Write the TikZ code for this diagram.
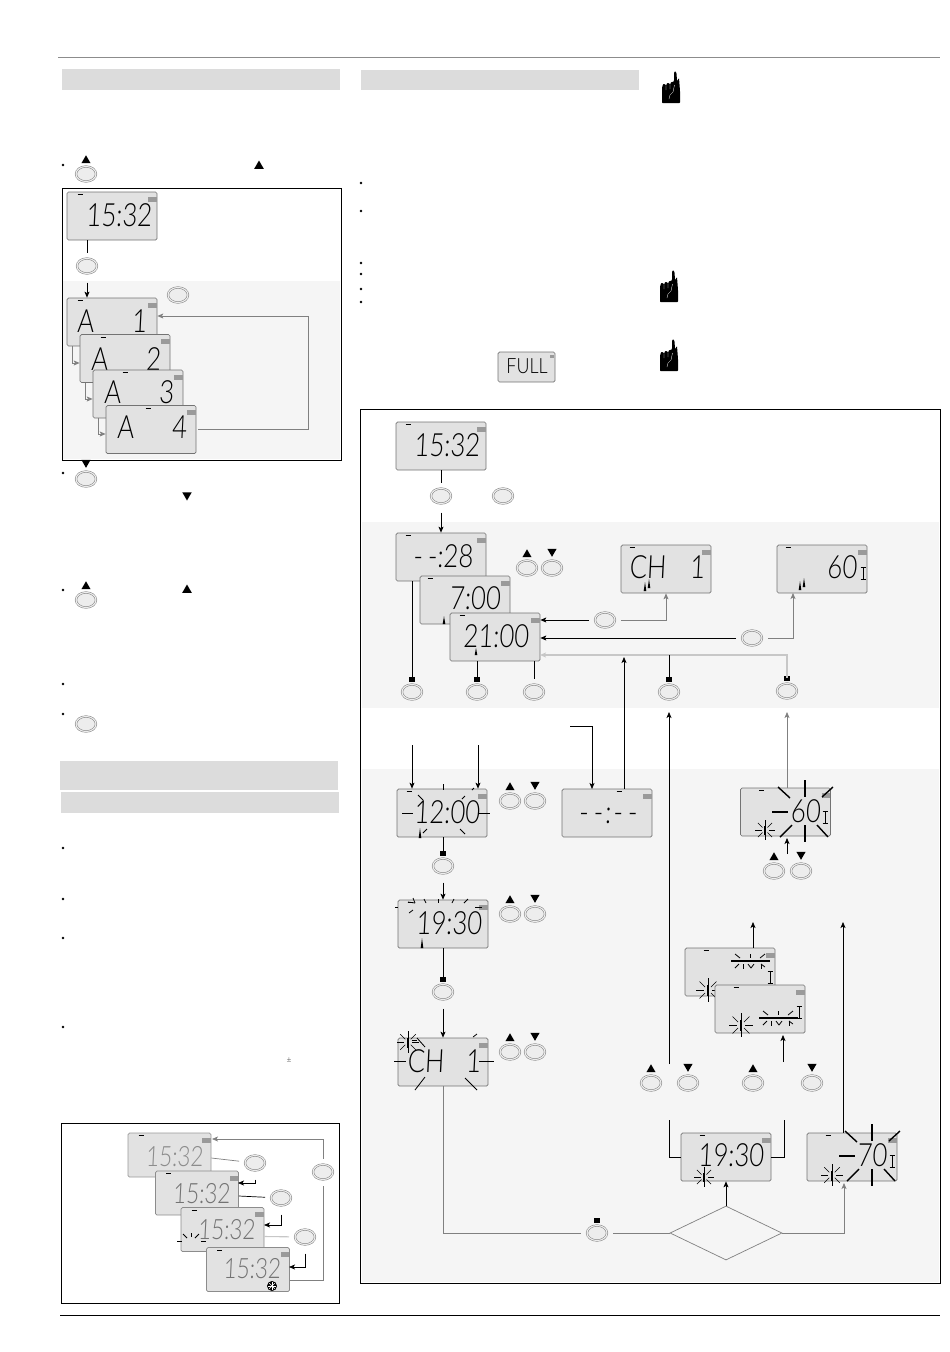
\documentclass[tikz,border=0pt]{standalone}
\usepackage{fontspec}
\usetikzlibrary{calc,shapes.geometric,arrows.meta}
\newfontfamily\lcdfont[UprightFont=* Light,FakeSlant=0.05,FakeStretch=0.8]{Lato}
\newfontfamily\lcdplain[UprightFont=* Light,FakeStretch=0.85]{Lato}
\definecolor{panelfill}{HTML}{F5F5F5}
\definecolor{barfill}{HTML}{DCDCDC}
\definecolor{lcdfill}{HTML}{E2E2E2}
\definecolor{tagfill}{HTML}{9A9A9A}
\definecolor{btnfill}{HTML}{EDEDED}
\tikzset{
lcdbox/.style={draw=black!55,fill=lcdfill,rounded corners=1.5pt,minimum width=90pt,minimum height=48pt,inner sep=0pt},
lcdsmall/.style={lcdbox,minimum width=83pt,minimum height=44pt,draw=black!45},
lcdtext/.style={inner sep=0pt,font=\lcdfont\fontsize{32}{32}\selectfont},
btn/.style={ellipse,fill=btnfill,draw=black!55,double=btnfill,double distance=1.2pt,line width=.45pt,minimum width=20pt,minimum height=15pt,inner sep=0pt,outer sep=6pt,label distance=-8pt},
triup/.style={regular polygon,regular polygon sides=3,fill=black,inner sep=0pt,minimum size=10.5pt},
tridown/.style={triup,shape border rotate=180},
sqmark/.style={rectangle,fill=black,inner sep=0pt,minimum size=5.5pt},
btnup/.style={btn,label={[triup,yshift=-3pt]above:{}}},
btndown/.style={btn,label={[tridown,yshift=-3pt]above:{}}},
btnsq/.style={btn,label={[sqmark,yshift=-4pt]above:{}}},
arr/.style={->,shorten <=3pt},
soft/.style={draw=black!50},
faint/.style={draw=black!22,line width=1.1pt},
decide/.style={diamond,draw=black!50,aspect=2.07,minimum width=112pt,minimum height=54pt,inner sep=0pt}
}
\newcommand{\lcd}[6][]{%
\node[lcdbox,#1] (#2) at (#3) {};
\draw[line width=1pt] ($(#2.north west)+(#4,3)$) -- ++(5,0);
\fill[tagfill] ($(#2.north east)+(-9,5)$) rectangle ++(8.5,5);
\node[lcdtext] (#2txt) at ($(#2)+(#5)$) {\vphantom{0}#6};
}
\newcommand{\burst}[3]{%
\begin{scope}[shift={(#1,#2)}]
\foreach \ang in {0,45,...,315} \draw[line width=.6pt] (\ang:#3*.35) -- (\ang:#3);
\draw[line width=1.3pt] (0,-#3*.4) -- (0,#3*.5);
\end{scope}}
\newcommand{\rays}[1]{\foreach \ax/\ay/\bx/\by in {#1} \draw[line width=.8pt] (\ax,\ay) -- (\bx,\by);}
\newcommand{\flash}[2]{%
\begin{scope}[shift={(#1,#2)},line width=1.4pt]
\draw (0,-31) -- (0,-14);
\draw (0,14) -- (0,31);
\draw (-33,1) -- (-17,1);
\draw (17,-14) -- (28,-24);
\draw (-27,-24) -- (-15,-13);
\draw (12,14) -- (23,26);
\draw (-25,26) -- (-13,14);
\end{scope}}
\newcommand{\dashflash}[2]{%
\begin{scope}[shift={(#1,#2)},line width=.6pt]
\draw[line width=1.3pt] (-19,0) -- (20,0);
\rays{-15/-7/-10/-3,0/-7/0/-3,15/-7/10/-3,-15/7/-11/3,-7/3/-7/8,-2/3/1/7,1/7/4/3,11/3/11/8,15/6/11/3}
\end{scope}}
\newcommand{\ibar}[2]{%
\draw[line width=.9pt] (#1-2.5,#2-6) -- (#1+2.5,#2-6) (#1,#2-6) -- (#1,#2+6) (#1-2.5,#2+6) -- (#1+2.5,#2+6);}
\newcommand{\pointer}[3]{\fill (#1-1.3,#2) -- (#1+1.3,#2) -- (#1,#2-#3) -- cycle;}
\newcommand{\handicon}[2]{%
\begin{scope}[shift={(#1,#2)}]
\fill[rounded corners=.7pt] (0,0) -- (0,-15) -- (1,-19) -- (3,-19) -- (4,-17) -- (5,-20) -- (7,-20) -- (8,-18) -- (9,-21) -- (11,-21) -- (12,-22) -- (12,-30) -- (13,-32) -- (14.5,-30) -- (15,-22) -- (17,-25) -- (18,-12) -- (18,0) -- cycle;
\draw[white,line width=.3pt] (4,-17) -- (4,-13) (8,-18) -- (8,-14) (12.5,-18) -- (11,-11) -- (8,-8) (8,-8) -- (7,-4);
\end{scope}}
\newcommand{\hy}{\hspace{5pt}}
\begin{document}
\begin{tikzpicture}[x=1pt,y=-1pt,line width=.7pt,>={Stealth[length=6pt,width=5pt,inset=1.5pt]}]
\useasboundingbox (0,0) rectangle (950,1352);
% page rules and headings
\draw[black!45] (58,57) -- (940,57);
\draw[black,line width=.6pt] (60,1315) -- (940,1315);
\fill[barfill] (62,69) rectangle (340,90);
\fill[barfill] (361,70) rectangle (639,90);
\fill[barfill] (60,761) rectangle (338,790);
\fill[barfill] (61,792) rectangle (339,813);
\foreach \bx/\by in {63/165,63/473,63/590,63/684,63/714,63/848,63/899,63/938,63/1027,361/183,361/211,361/263,361/274,361/289,361/302}
\fill (\bx,\by) circle (1.3);
\handicon{662}{103}
\handicon{660}{302}
\handicon{660}{371}
\node[triup,minimum size=11pt] (triA) at (259,166) {};
\node[tridown,minimum size=11pt] (triB) at (187,495) {};
\node[triup,minimum size=11pt] (triC) at (187,590) {};
\node[btnup] (btnA) at (86,174) {};
\node[btndown] (btnB) at (86,479) {};
\node[btnup] (btnC) at (86,600) {};
\node[btn] (btnD) at (86,724) {};
\node[inner sep=0pt,font=\tiny] (plusminus) at (289,1060) {$\pm$};
\node[lcdbox,minimum width=57pt,minimum height=30pt] (lcdFull) at (526.5,367) {};
\node[lcdtext,font=\lcdplain\fontsize{21}{21}\selectfont] (lcdFulltxt) at (527,366) {FULL};
\fill[tagfill] (550,355) rectangle (554,358);

% alarm panel
\fill[panelfill] (63,281) rectangle (340,459);
\draw[line width=.9pt] (62,188) rectangle (341,460);
\lcd{lcdTop}{112,216}{11}{7,-1}{15:32}
\node[btn] (btnEnter) at (87,266) {};
\node[btn] (btnAlarm) at (178,295) {};
\draw (lcdTop.south -| btnEnter) -- (btnEnter);
\lcd{lcdAone}{112,322}{11}{0,-1}{A\hspace{38pt}1}
\lcd{lcdAtwo}{125,358.5}{21}{1,1}{A\hspace{38pt}2}
\lcd{lcdAthree}{138,394}{30}{1,-2}{A\hspace{38pt}3}
\lcd{lcdAfour}{151,429.5}{40}{1,-2}{A\hspace{38pt}4}
\coordinate (elbowA) at (72,363);
\coordinate (elbowB) at (85,399);
\coordinate (elbowC) at (98,434);
\coordinate (retA) at (308,316);
\draw[arr] (btnEnter) -- (lcdAone.north -| btnEnter);
\draw[soft,->] (lcdAone.south -| elbowA) |- (lcdAtwo.west |- elbowA);
\draw[soft,->] (lcdAtwo.south -| elbowB) |- (lcdAthree.west |- elbowB);
\draw[soft,->] (lcdAthree.south -| elbowC) |- (lcdAfour.west |- elbowC);
\draw[soft,->] ($(lcdAfour.east)+(2,0)$) -| (retA) -- (lcdAone.east |- retA);

% program panel
\fill[panelfill] (362,522) rectangle (939,708);
\fill[panelfill] (362,769) rectangle (939,1282);
\draw[line width=.9pt] (360.5,409.5) rectangle (940,1283);
\lcd{lcdStart}{441,446}{10}{6,-1}{15:32}
\node[btn] (btnMenu) at (441,496) {};
\node[btn] (btnExit) at (503,496) {};
\lcd{lcdDay}{441,557}{10}{2,-1}{-\hy-:28}
\lcd{lcdMorn}{465,600}{8}{10,-2}{7:00}
\pointer{444}{624}{8}
\lcd{lcdEve}{495,637}{10}{1,-1}{21:00}
\pointer{476}{655}{7}
\node[btnup] (btnUpA) at (527,568) {};
\node[btndown] (btnDnA) at (552,568) {};
\lcd{lcdCh}{666,569}{9}{1,-2}{CH\hspace{24pt}1}
\lcd{lcdSixty}{822,569}{9}{20,-2}{60}
\ibar{863}{573}
\pointer{645}{591}{9}
\pointer{649}{588}{9}
\pointer{800}{590}{9}
\pointer{804}{587}{9}
\node[btn] (btnCh) at (605,620) {};
\node[btn] (btnTemp) at (752,638) {};
\node[btnsq] (btnSet) at (412,692) {};
\node[btnsq] (btnOk) at (477,692) {};
\node[btn] (btnNext) at (534,692) {};
\node[btnsq] (btnNine) at (669,692) {};
\node[btnsq] (btnBack) at (787,691) {};
\coordinate (toSixty) at (793,593);
\coordinate (backRow) at (540,655);
\coordinate (upDash) at (624,657);
\coordinate (inDash) at (570,726);
\coordinate (downDash) at (592,789);
\coordinate (fromA) at (412,745);
\coordinate (fromB) at (478,745);
\coordinate (upSet) at (669,712);
\coordinate (lowSet) at (669,1064);
\coordinate (upBack) at (787,712);
\draw (lcdStart) -- (btnMenu);
\draw[arr] (btnMenu) -- (lcdDay);
\draw (lcdDay.south -| btnSet) -- (btnSet);
\draw (lcdEve.south -| btnOk) -- (btnOk);
\draw (lcdEve.south -| btnNext) -- (btnNext);
\draw[->] (btnCh) -- (btnCh -| lcdEve.east);
\draw[soft,->] (btnCh) -| (lcdCh.south);
\draw[->] (btnTemp) -- (btnTemp -| lcdEve.east);
\draw[soft,->] (btnTemp) -| (toSixty);
\draw[faint,->] (btnBack) |- (backRow);
\draw (btnNine) -- (btnNine |- backRow);

\lcd{lcdNoon}{442,813}{10}{5,-1}{12:00}
\rays{402/813/413/813,478/813/490/813,443/784/443/790,418/795/423/800,462/799/465/796,472/790/474/788,423/833/427/829,460/829/465/834}
\pointer{420}{838}{10}
\lcd{lcdDash}{607,813}{55}{1,-1}{-\hy-\hspace{2pt}:\hspace{2pt}-\hy-}
\draw[->] (fromA) -- (lcdNoon.north -| fromA);
\draw[->] (fromB) -- (lcdNoon.north -| fromB);
\draw[->] (inDash) -| (downDash);
\draw[->] (lcdDash.north -| upDash) -- (upDash);
\draw[->] (lowSet) -- (upSet);
\node[btnup] (btnUpB) at (510,801) {};
\node[btndown] (btnDnB) at (535,801) {};
\node[btnsq] (btnTime) at (443,866) {};
\draw (lcdNoon.south -| btnTime) -- (btnTime);
\lcd{lcdHour}{443,924}{10}{6,-1}{19:30}
\rays{395/907/398/907,408/902/415/903,413/898/415/903,424/899/426/903,438/899/438/903,454/899/452/903,468/899/464/903,475/907/482/907,409/913/413/910}
\pointer{422}{948}{10}
\draw[arr] (btnTime) -- (lcdHour);
\node[btnup] (btnUpC) at (510,914) {};
\node[btndown] (btnDnC) at (535,914) {};
\node[btnsq] (btnHour) at (443,992) {};
\draw (lcdHour) -- (btnHour);
\lcd{lcdChan}{443,1062}{14}{1,-1}{CH\hspace{22pt}1}
\burst{408}{1042}{11}
\rays{417/1038/425/1047,473/1037/477/1034,394/1061/406/1061,479/1061/494/1061,425/1077/415/1090,465/1078/477/1090}
\draw[arr] (btnHour) -- (lcdChan);
\node[btnup] (btnUpD) at (510,1052) {};
\node[btndown] (btnDnD) at (535,1052) {};

\lcd{lcdFlash}{785.5,812}{19}{20,-1}{60}
\flash{805}{811}
\ibar{825}{817}
\burst{765}{830}{10}
\node[btnup] (btnUpE) at (774,871) {};
\node[btndown] (btnDnE) at (801,871) {};
\coordinate (upFlash) at (787,838);
\coordinate (lowFlash) at (787,854);
\draw[->] (lowFlash) -- (upFlash);
\draw[soft,->] (lcdFlash.north -| upBack) -- (upBack);

\lcd{lcdOne}{730,972}{19}{0,0}{}
\dashflash{750}{961}
\ibar{770}{977}
\burst{708}{990}{12}
\lcd{lcdTwo}{760,1009}{19}{0,0}{}
\dashflash{778}{1018}
\ibar{799}{1012}
\burst{741}{1025}{12}
\coordinate (upMid) at (753,922);
\coordinate (upFront) at (783,1035);
\coordinate (lowFront) at (783,1062);
\draw[->] (lcdOne.north -| upMid) -- (upMid);
\draw[->] (lowFront) -- (upFront);

\node[btnup] (btnUpF) at (651,1083) {};
\node[btndown] (btnDnF) at (688,1083) {};
\node[btnup] (btnUpG) at (753,1083) {};
\node[btndown] (btnDnG) at (812,1083) {};
\lcd{lcdLow}{726,1157}{19}{5,-2}{19:30}
\burst{704}{1177}{10}
\lcd{lcdSeventy}{852,1157}{19}{20,-2}{70}
\flash{872}{1155}
\ibar{892}{1161}
\burst{832}{1175}{11}
\node[decide] (choice) at (726,1233) {};
\node[btnsq] (btnEnd) at (597,1233) {};
\coordinate (lowL) at (669,1120);
\coordinate (lowR) at (784,1120);
\coordinate (toSeventy) at (844,1183);
\coordinate (upTop) at (843,922);
\draw (lowL) |- (lcdLow.west);
\draw (lowR) |- (lcdLow.east);
\draw[->] (lcdSeventy.north -| upTop) -- (upTop);
\draw[soft] (lcdChan) |- (btnEnd);
\draw[soft] (btnEnd) -- (choice);
\draw[->] (choice) -- (lcdLow);
\draw[soft,->] (choice) -| (toSeventy);

% display modes panel
\draw[line width=.9pt] (61,1123) rectangle (339,1303);
\lcd[lcdsmall,draw=black!40]{lcdModeA}{169.5,1155}{11}{5,0}{\color{black!45}\fontsize{28}{28}\selectfont 15:32}
\lcd[lcdsmall]{lcdModeB}{197,1193}{11}{4.5,-1}{\color{black!55}\fontsize{28}{28}\selectfont 15:32}
\lcd[lcdsmall]{lcdModeC}{222.5,1229.5}{11}{4,-1}{\color{black!55}\fontsize{28}{28}\selectfont 15:32}
\rays{177/1241/182/1241,183/1234/187/1238,191/1233/191/1237,199/1234/195/1238,201/1241/206/1241}
\lcd[lcdsmall]{lcdModeD}{248,1269.5}{11}{4,-2}{\color{black!55}\fontsize{28}{28}\selectfont 15:32}
\fill (272,1286) circle (5);
\foreach \ang in {0,45,...,135} \draw[white,line width=.5pt] (\ang:4) ++(272,1286) -- ++(\ang+180:8);
\node[btn] (btnModeA) at (255,1163) {};
\node[btn] (btnModeB) at (281,1198) {};
\node[btn] (btnModeC) at (305,1237) {};
\node[btn] (btnModeD) at (323,1172) {};
\coordinate (inB) at (238,1183);
\coordinate (inC) at (264,1225);
\coordinate (inD) at (289,1267);
\coordinate (inA) at (212,1139);
\draw[soft] (lcdModeA.east) ++(0,3) -- (btnModeA);
\draw[arr] (btnModeA) |- (inB);
\draw (lcdModeB.east) ++(0,3) -- (btnModeB);
\draw[arr] (btnModeB) |- (inC);
\draw[faint] (lcdModeC.east) ++(0,7) -- (btnModeC);
\draw[arr] (btnModeC) |- (inD);
\draw[soft] (lcdModeD.east) ++(0,11) -| (btnModeD);
\draw[soft,->] (btnModeD) |- (inA);
\end{tikzpicture}
\end{document}
